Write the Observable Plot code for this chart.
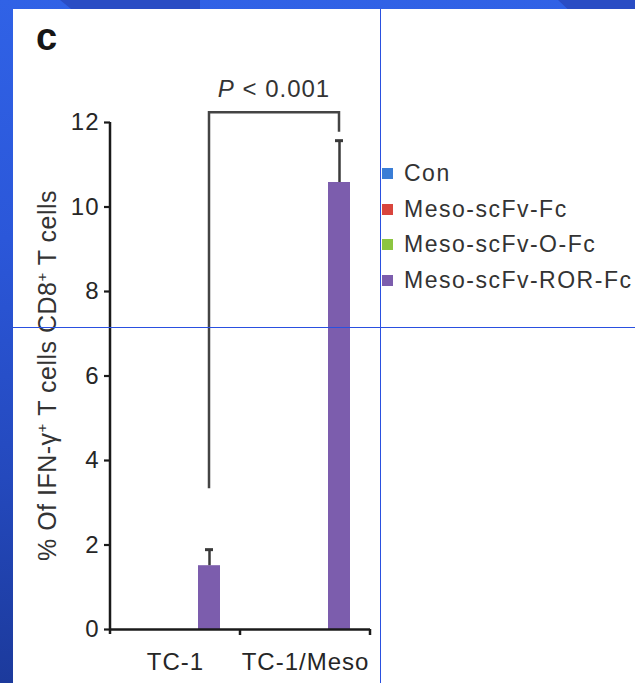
<!DOCTYPE html>
<html>
<head>
<meta charset="utf-8">
<script src="https://cdn.jsdelivr.net/npm/d3@7"></script>
<script src="https://cdn.jsdelivr.net/npm/@observablehq/plot@0.6"></script>
<style>
  html, body { margin: 0; padding: 0; }
  body {
    width: 635px; height: 683px; overflow: hidden; position: relative;
    background: linear-gradient(180deg, #3062e6 0%, #2b57d9 35%, #2449bd 70%, #1c3a9c 100%);
    font-family: "Liberation Sans", Arial, sans-serif;
  }
  .stripe { position: absolute; top: 0; height: 9px; background: #2a4dc4; }
  #panel { position: absolute; left: 13px; top: 9px; right: 0; bottom: 0; background: #fff; }
  #chart { position: absolute; left: 0; top: 0; }
  #chart svg text { letter-spacing: 1px; }
  #title { position: absolute; left: 36px; top: 18px; font-size: 38px; line-height: 38px; font-weight: bold; color: #161616; }
  #legend { position: absolute; left: 382px; top: 156px; width: 420px; }
  #legend .lg-swatch { height: 35.5px; padding: 0 !important; margin: 0 !important; }
  #legend svg { margin-right: 11px !important; }
  .guide { position: absolute; background: #2a50e0; z-index: 5; }
</style>
</head>
<body>
<div class="stripe" style="left:60px; width:140px; clip-path: polygon(0 0, 100% 0, 100% 100%, 8% 100%);"></div>
<div class="stripe" style="left:558px; width:80px; clip-path: polygon(0 0, 100% 0, 100% 100%, 12% 100%);"></div>
<div id="panel"></div>
<div id="chart"></div>
<div id="title">c</div>
<div id="legend"></div>
<div class="guide" style="left:380px; top:9px; width:1px; bottom:0;"></div>
<div class="guide" style="left:13px; right:0; top:327px; height:1px;"></div>
<script>
// ---- data ----
const categories = ["TC-1", "TC-1/Meso"];
const groups = ["Con", "Meso-scFv-Fc", "Meso-scFv-O-Fc", "Meso-scFv-ROR-Fc"];
const groupColors = ["#3a7dd6", "#d9453d", "#8cc540", "#7c5dad"];
const shownGroup = "Meso-scFv-ROR-Fc";
const meanValues = [1.51, 10.58];
const errorValues = [0.38, 0.99];
const yTicks = [0, 2, 4, 6, 8, 10, 12];
const yMax = 12;
const bracketEnds = [3.33, 11.77];
const bracketTop = 12.23;
const pLabelY = 12.6;
const pLabelParts = ["P", " < 0.001"];
const yLabelParts = [["% Of IFN-γ", false], ["+", true], [" T cells CD8", false], ["+", true], [" T cells", false]];

const data = categories.map((cat, i) => ({cat, group: shownGroup, value: meanValues[i], err: errorValues[i]}));

const ink = "#1a1a1a";
const errInk = "#3a3a3a";

const plot = Plot.plot({
  width: 635,
  height: 683,
  marginLeft: 109,
  marginRight: 265,
  marginTop: 122,
  marginBottom: 54,
  style: {
    background: "transparent",
    fontFamily: "'Liberation Sans', Arial, sans-serif",
    fontSize: "24px",
    color: "#262626",
    overflow: "visible"
  },
  fx: {domain: categories, padding: 0},
  x: {domain: groups, paddingInner: 0.03, paddingOuter: 0.76, axis: null},
  y: {domain: [0, yMax]},
  color: {domain: groups, range: groupColors},
  marks: [
    Plot.barY(data, {fx: "cat", x: "group", y: "value", fill: "group"}),
    Plot.ruleX(data, {fx: "cat", x: "group", y1: "value", y2: d => d.value + d.err, stroke: errInk, strokeWidth: 2.5}),
    Plot.tickY(data, {fx: "cat", x: "group", y: d => d.value + d.err, insetLeft: 7, insetRight: 7, stroke: errInk, strokeWidth: 3}),
    Plot.ruleY([0], {stroke: ink, strokeWidth: 2.5}),
    Plot.axisY(yTicks, {tickSize: 6, tickPadding: 5, stroke: ink, strokeWidth: 2.2, label: null}),
    Plot.axisFx({anchor: "bottom", tickSize: 0, tickPadding: 23, label: null})
  ]
});

document.getElementById("chart").appendChild(plot);

const legend = plot.legend("color", {legend: "swatches", columns: 1, swatchSize: 11, className: "lg",
  style: {fontFamily: "'Liberation Sans', Arial, sans-serif", fontSize: "23px", letterSpacing: "1.5px", color: "#333", margin: 0}});
document.getElementById("legend").appendChild(legend);

// ---- overlay: axis line, boundary ticks, bracket, labels (positioned with Plot's scales) ----
const svg = d3.select(plot);
const fxS = plot.scale("fx"), xS = plot.scale("x"), yS = plot.scale("y");
const x0 = xS.range[0];
const center = c => fxS.apply(c) + xS.apply(shownGroup) - x0 + xS.bandwidth / 2;
const ov = svg.append("g");

const axisX = fxS.apply(categories[0]);
ov.append("line").attr("x1", axisX).attr("x2", axisX)
  .attr("y1", yS.apply(yMax)).attr("y2", yS.apply(0) + 5)
  .attr("stroke", ink).attr("stroke-width", 2.5);

categories.forEach(c => {
  const xe = fxS.apply(c) + fxS.bandwidth;
  ov.append("line").attr("x1", xe).attr("x2", xe)
    .attr("y1", yS.apply(0)).attr("y2", yS.apply(0) + 6)
    .attr("stroke", ink).attr("stroke-width", 2.5);
});

const xl = center(categories[0]), xr = center(categories[1]);
const yt = yS.apply(bracketTop);
ov.append("path")
  .attr("d", `M${xl},${yS.apply(bracketEnds[0])}V${yt}H${xr}V${yS.apply(bracketEnds[1])}`)
  .attr("fill", "none").attr("stroke", "#444").attr("stroke-width", 2.5);

const pt = ov.append("text").attr("x", (xl + xr) / 2).attr("y", yS.apply(pLabelY))
  .attr("text-anchor", "middle").attr("fill", "#333").attr("font-size", 24);
pt.append("tspan").attr("font-style", "italic").text(pLabelParts[0]);
pt.append("tspan").text(pLabelParts[1]);

const yMid = (yS.apply(0) + yS.apply(yMax)) / 2;
const yl = ov.append("text").attr("transform", `translate(56,${yMid}) rotate(-90)`)
  .attr("text-anchor", "middle").attr("fill", "#333").attr("font-size", 25)
  .style("letter-spacing", "0.5px");
yLabelParts.forEach(([s, sup]) => {
  const t = yl.append("tspan").text(s);
  if (sup) t.attr("font-size", 15).attr("dy", -9);
  else if (s !== yLabelParts[0][0]) t.attr("dy", 9);
});
</script>
</body>
</html>
